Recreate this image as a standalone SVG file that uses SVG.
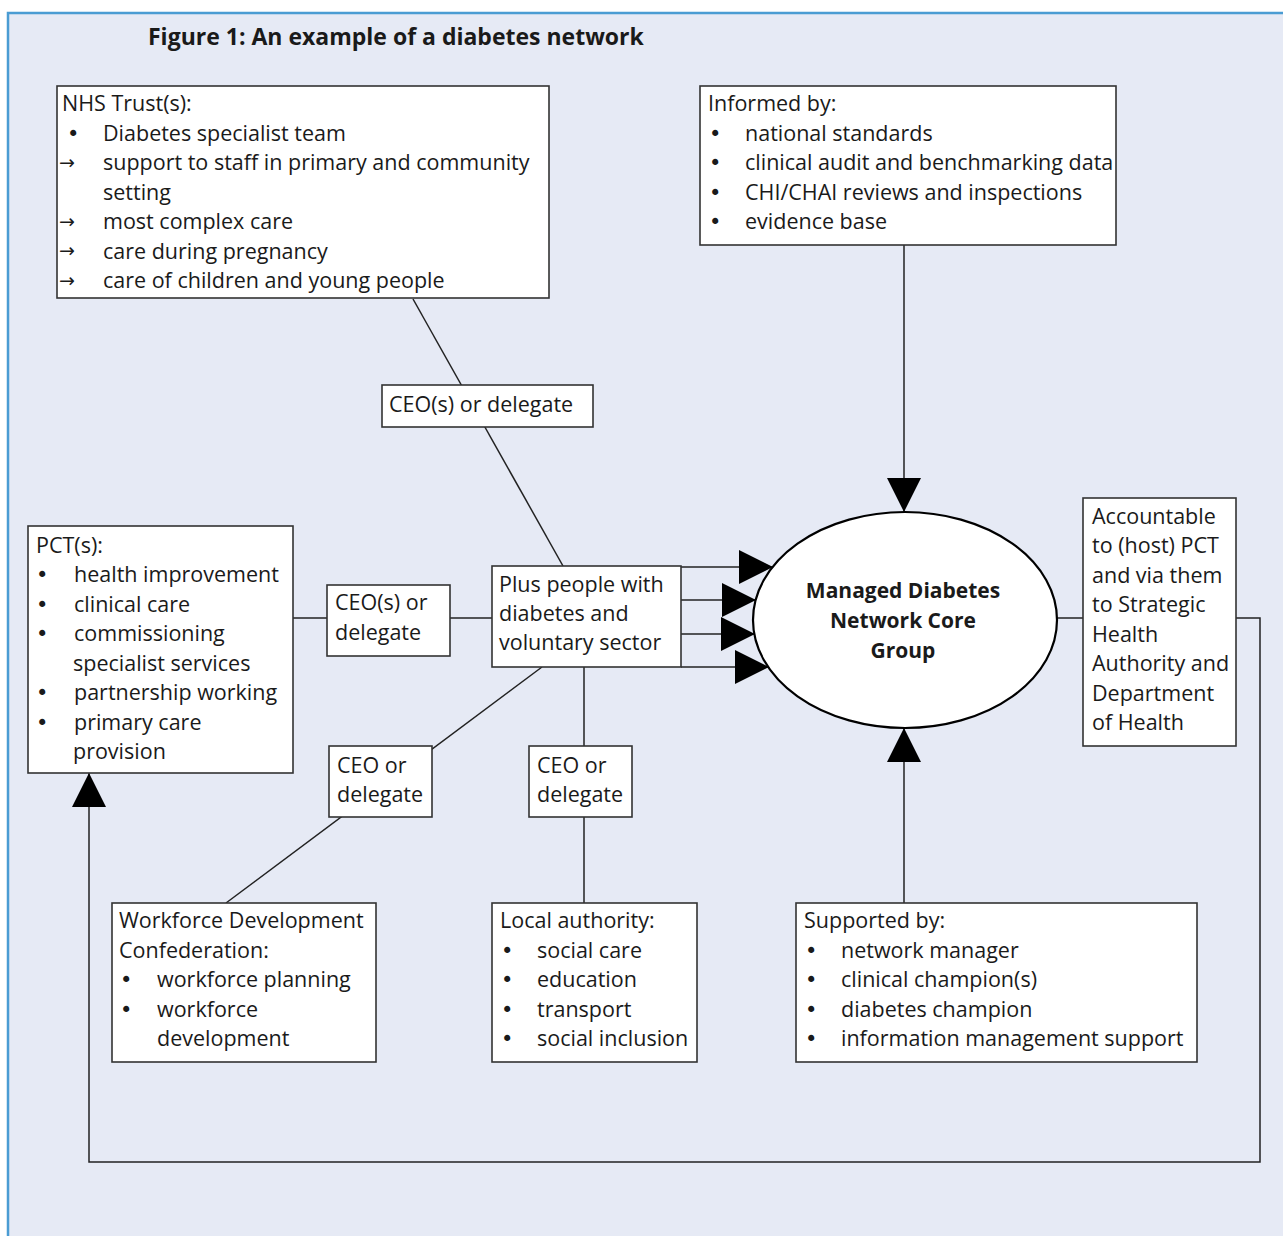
<svg xmlns="http://www.w3.org/2000/svg" width="1283" height="1236" viewBox="0 0 1283 1236">
<defs>
<style>
.bg{fill:#e6eaf5;stroke:#4a9cd3;stroke-width:2.5}
.box{fill:#ffffff;stroke:#333333;stroke-width:1.6}
.t{font-family:"Open Sans","Noto Sans","Liberation Sans",sans-serif;font-size:21.5px;fill:#1a1a1a}
.bu{font-family:"DejaVu Sans",sans-serif;font-size:21px;fill:#1a1a1a}
.b{font-family:"Open Sans","Noto Sans","Liberation Sans",sans-serif;font-size:21px;font-weight:bold;fill:#1a1a1a}
.title{font-family:"Open Sans","Noto Sans","Liberation Sans",sans-serif;font-size:23px;font-weight:bold;fill:#1a1a1a}
.ar{font-family:"DejaVu Sans",sans-serif;font-size:19px;fill:#1a1a1a}
.ln{fill:none;stroke:#222222;stroke-width:1.5}
</style>
<marker id="ah" markerUnits="userSpaceOnUse" markerWidth="36" markerHeight="36" refX="34" refY="17" orient="auto" viewBox="0 0 36 36">
<path d="M0,0 L34,17 L0,34 z" fill="#000000"/>
</marker>
</defs>
<rect class="bg" x="8" y="13" width="1290" height="1240"/>
<text class="title" x="148" y="45">Figure 1: An example of a diabetes network</text>

<g id="connectors">
<line class="ln" x1="413" y1="299" x2="563" y2="566"/>
<line class="ln" x1="904" y1="245" x2="904" y2="512" marker-end="url(#ah)"/>
<line class="ln" x1="293" y1="618" x2="492" y2="618"/>
<line class="ln" x1="681" y1="567" x2="773" y2="567" marker-end="url(#ah)"/>
<line class="ln" x1="681" y1="600" x2="756" y2="600" marker-end="url(#ah)"/>
<line class="ln" x1="681" y1="634" x2="755" y2="634" marker-end="url(#ah)"/>
<line class="ln" x1="681" y1="667" x2="769" y2="667" marker-end="url(#ah)"/>
<line class="ln" x1="542" y1="667" x2="226" y2="903"/>
<line class="ln" x1="584" y1="667" x2="584" y2="903"/>
<line class="ln" x1="904" y1="903" x2="904" y2="728" marker-end="url(#ah)"/>
<line class="ln" x1="1057" y1="618" x2="1083" y2="618"/>
<polyline class="ln" points="1236,618 1260,618 1260,1162 89,1162 89,773" marker-end="url(#ah)"/>
</g>

<g id="nhs">
<rect class="box" x="57" y="86" width="492" height="212"/>
<text class="t" x="62" y="111">NHS Trust(s):</text>
<text class="bu" x="67" y="140.5">•</text><text class="t" x="103" y="140.5">Diabetes specialist team</text>
<text class="ar" x="59" y="168.5">→</text><text class="t" x="103" y="170">support to staff in primary and community</text>
<text class="t" x="103" y="199.5">setting</text>
<text class="ar" x="59" y="227.5">→</text><text class="t" x="103" y="229">most complex care</text>
<text class="ar" x="59" y="257">→</text><text class="t" x="103" y="258.5">care during pregnancy</text>
<text class="ar" x="59" y="286.5">→</text><text class="t" x="103" y="288">care of children and young people</text>
</g>

<g id="informed">
<rect class="box" x="700" y="86" width="416" height="159"/>
<text class="t" x="708" y="111">Informed by:</text>
<text class="bu" x="709" y="140.5">•</text><text class="t" x="745" y="140.5">national standards</text>
<text class="bu" x="709" y="170">•</text><text class="t" x="745" y="170">clinical audit and benchmarking data</text>
<text class="bu" x="709" y="199.5">•</text><text class="t" x="745" y="199.5">CHI/CHAI reviews and inspections</text>
<text class="bu" x="709" y="229">•</text><text class="t" x="745" y="229">evidence base</text>
</g>

<g id="ceo-top">
<rect class="box" x="382" y="385" width="211" height="42"/>
<text class="t" x="389" y="412">CEO(s) or delegate</text>
</g>

<g id="pct">
<rect class="box" x="28" y="526" width="265" height="247"/>
<text class="t" x="36" y="552.5">PCT(s):</text>
<text class="bu" x="36" y="582">•</text><text class="t" x="74" y="582">health improvement</text>
<text class="bu" x="36" y="611.5">•</text><text class="t" x="74" y="611.5">clinical care</text>
<text class="bu" x="36" y="641">•</text><text class="t" x="74" y="641">commissioning</text>
<text class="t" x="73" y="670.5">specialist services</text>
<text class="bu" x="36" y="700">•</text><text class="t" x="74" y="700">partnership working</text>
<text class="bu" x="36" y="729.5">•</text><text class="t" x="74" y="729.5">primary care</text>
<text class="t" x="73" y="759">provision</text>
</g>

<g id="ceo-left">
<rect class="box" x="327" y="585" width="123" height="71"/>
<text class="t" x="335" y="610">CEO(s) or</text>
<text class="t" x="335" y="640">delegate</text>
</g>

<g id="plus">
<rect class="box" x="492" y="566" width="189" height="101"/>
<text class="t" x="499" y="592">Plus people with</text>
<text class="t" x="499" y="621">diabetes and</text>
<text class="t" x="499" y="650">voluntary sector</text>
</g>

<g id="core">
<ellipse cx="905" cy="620" rx="152" ry="108" fill="#ffffff" stroke="#000000" stroke-width="2.2"/>
<text class="b" x="903" y="598" text-anchor="middle">Managed Diabetes</text>
<text class="b" x="903" y="628" text-anchor="middle">Network Core</text>
<text class="b" x="903" y="658" text-anchor="middle">Group</text>
</g>

<g id="accountable">
<rect class="box" x="1083" y="498" width="153" height="248"/>
<text class="t" x="1092" y="523.5">Accountable</text>
<text class="t" x="1092" y="553">to (host) PCT</text>
<text class="t" x="1092" y="582.5">and via them</text>
<text class="t" x="1092" y="612">to Strategic</text>
<text class="t" x="1092" y="641.5">Health</text>
<text class="t" x="1092" y="671">Authority and</text>
<text class="t" x="1092" y="700.5">Department</text>
<text class="t" x="1092" y="730">of Health</text>
</g>

<g id="ceo-bl">
<rect class="box" x="329" y="746" width="103" height="71"/>
<text class="t" x="337" y="773">CEO or</text>
<text class="t" x="337" y="802">delegate</text>
</g>

<g id="ceo-br">
<rect class="box" x="529" y="746" width="103" height="71"/>
<text class="t" x="537" y="773">CEO or</text>
<text class="t" x="537" y="802">delegate</text>
</g>

<g id="workforce">
<rect class="box" x="112" y="903" width="264" height="159"/>
<text class="t" x="119" y="928">Workforce Development</text>
<text class="t" x="119" y="958">Confederation:</text>
<text class="bu" x="120" y="987">•</text><text class="t" x="157" y="987">workforce planning</text>
<text class="bu" x="120" y="1017">•</text><text class="t" x="157" y="1017">workforce</text>
<text class="t" x="157" y="1046">development</text>
</g>

<g id="local">
<rect class="box" x="492" y="903" width="205" height="159"/>
<text class="t" x="500" y="928">Local authority:</text>
<text class="bu" x="501" y="958">•</text><text class="t" x="537" y="958">social care</text>
<text class="bu" x="501" y="987">•</text><text class="t" x="537" y="987">education</text>
<text class="bu" x="501" y="1017">•</text><text class="t" x="537" y="1017">transport</text>
<text class="bu" x="501" y="1046">•</text><text class="t" x="537" y="1046">social inclusion</text>
</g>

<g id="supported">
<rect class="box" x="796" y="903" width="401" height="159"/>
<text class="t" x="804" y="928">Supported by:</text>
<text class="bu" x="805" y="958">•</text><text class="t" x="841" y="958">network manager</text>
<text class="bu" x="805" y="987">•</text><text class="t" x="841" y="987">clinical champion(s)</text>
<text class="bu" x="805" y="1017">•</text><text class="t" x="841" y="1017">diabetes champion</text>
<text class="bu" x="805" y="1046">•</text><text class="t" x="841" y="1046">information management support</text>
</g>
</svg>
